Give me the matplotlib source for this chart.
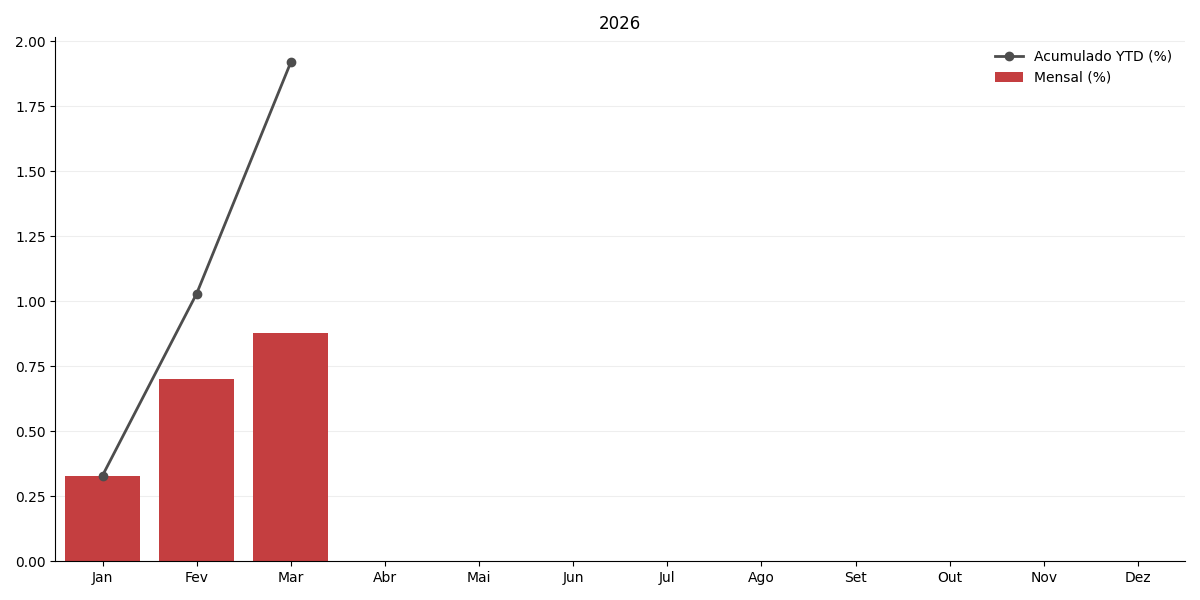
import numpy as np
import matplotlib.pyplot as plt

meses = ['Jan', 'Fev', 'Mar', 'Abr', 'Mai', 'Jun', 'Jul', 'Ago', 'Set', 'Out', 'Nov', 'Dez']
mensal = [0.33, 0.70, 0.88]
acumulado = [0.33, 1.03, 1.92]

x = np.arange(len(meses))
n = len(mensal)

fig, ax = plt.subplots(figsize=(12, 6), dpi=100)
ax.bar(x[:n], mensal, width=0.8, color='#c43e40', label='Mensal (%)', zorder=2)
ax.plot(x[:n], acumulado, color='#4d4d4d', linewidth=2, marker='o', markersize=6,
        label='Acumulado YTD (%)', zorder=3)

ax.set_xticks(x)
ax.set_xticklabels(meses)
ax.set_xlim(-0.5, len(meses) - 0.5)
ax.set_ylim(0, max(acumulado) * 1.05)
ax.set_title('2026')
ax.grid(axis='y', color='#eeeeee', linewidth=0.8, zorder=0)
ax.set_axisbelow(True)
ax.spines['top'].set_visible(False)
ax.spines['right'].set_visible(False)
ax.legend(loc='upper right', frameon=False)

plt.tight_layout()
plt.savefig('out.png')
